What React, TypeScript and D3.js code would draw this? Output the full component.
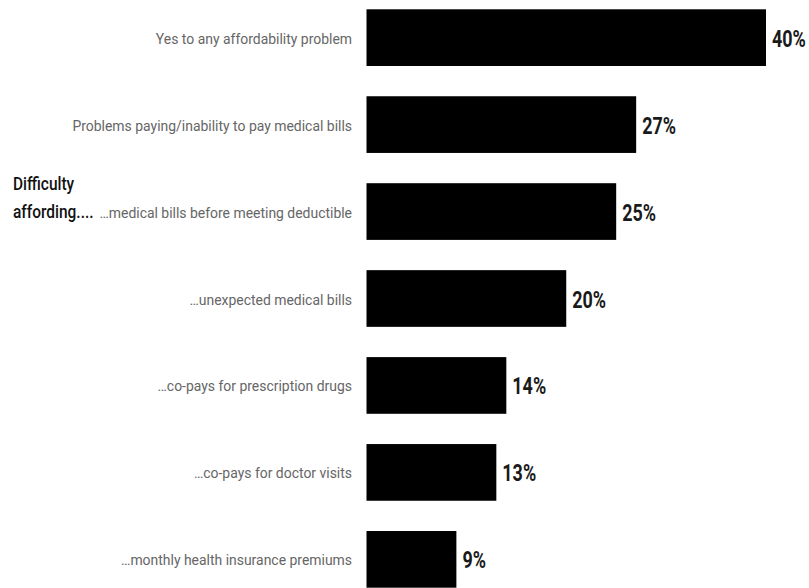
import React from "react";
import * as d3 from "d3";

const categories: string[] = [
  "Yes to any affordability problem",
  "Problems paying/inability to pay medical bills",
  "…medical bills before meeting deductible",
  "…unexpected medical bills",
  "…co-pays for prescription drugs",
  "…co-pays for doctor visits",
  "…monthly health insurance premiums",
];
const values: number[] = [40, 27, 25, 20, 14, 13, 9];
const valueLabels: string[] = ["40%", "27%", "25%", "20%", "14%", "13%", "9%"];
const groupTitle: string[] = ["Difficulty", "affording...."];

const W = 809;
const H = 588;

export default function App() {
  const x = d3.scaleLinear().domain([0, 40]).range([366.5, 766]);
  const y = d3
    .scaleBand<string>()
    .domain(categories)
    .range([9.3, 587.7])
    .paddingInner(0.348)
    .paddingOuter(0);
  return (
    <svg
      width={W}
      height={H}
      style={{ position: "absolute", left: 0, top: 0, background: "#fff" }}
    >
      {categories.map((c, i) => {
        const y0 = y(c) as number;
        const bw = y.bandwidth();
        const cy = y0 + bw / 2;
        return (
          <g key={c}>
            <rect x={x(0)} y={y0} width={x(values[i]) - x(0)} height={bw} fill="#000" />
            <text
              transform={`translate(352,${cy + 6}) scale(0.93,1)`}
              textAnchor="end"
              fontFamily="Roboto"
              fontSize={15}
              fill="#666"
            >
              {c}
            </text>
            <text
              transform={`translate(${x(values[i]) + 6},${cy + 9}) scale(0.78,1)`}
              fontFamily="Roboto"
              fontWeight={700}
              fontSize={23}
              fill="#1a1a1a"
            >
              {valueLabels[i]}
            </text>
          </g>
        );
      })}
      {groupTitle.map((t, i) => (
        <text
          key={t}
          transform={`translate(13,${190 + i * 28}) scale(0.86,1)`}
          fontFamily="Roboto"
          fontWeight={500}
          fontSize={18}
          fill="#111"
        >
          {t}
        </text>
      ))}
    </svg>
  );
}
